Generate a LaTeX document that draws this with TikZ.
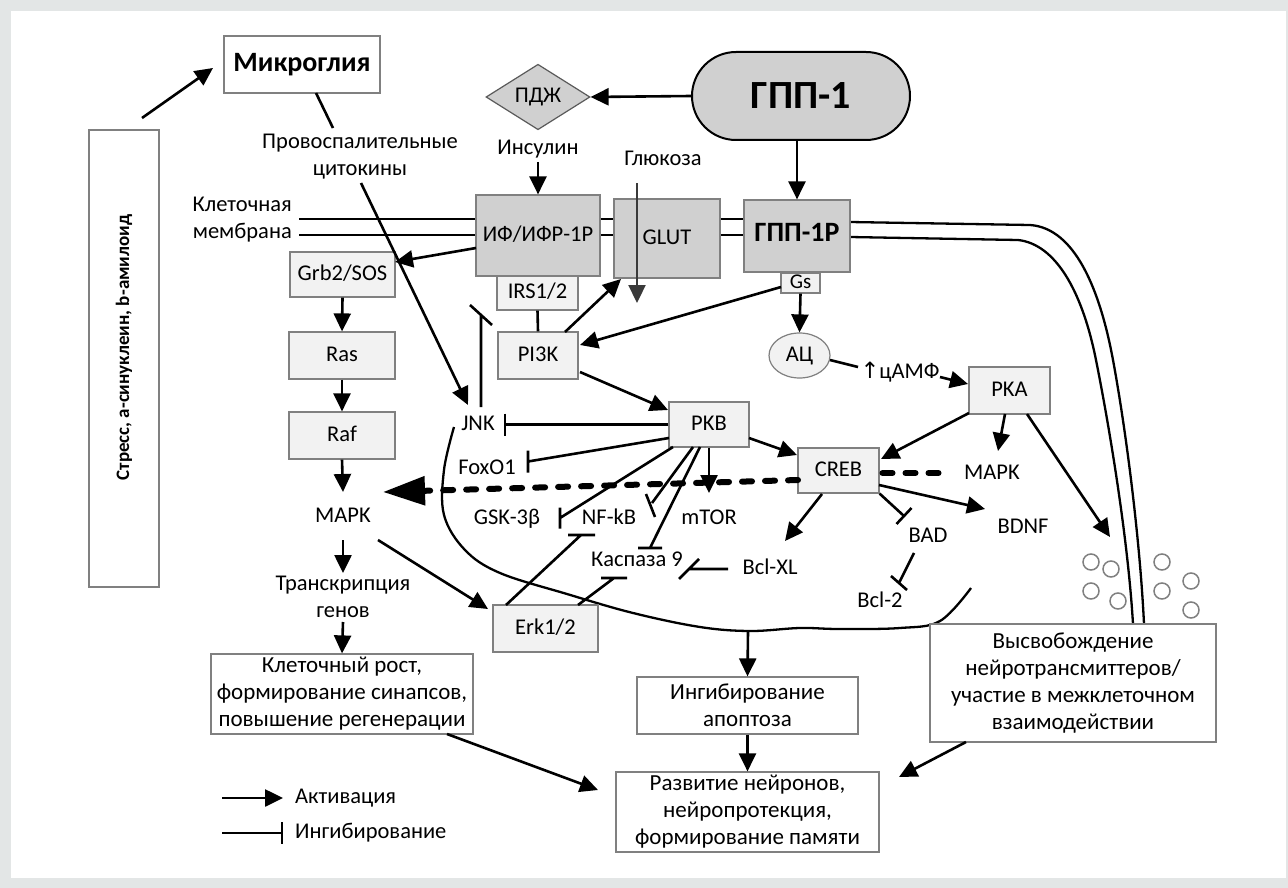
\documentclass[tikz,border=0pt]{standalone}
\usepackage{fontspec}
\setmainfont{Carlito}
\newfontfamily\symfont{DejaVu Sans}
\usetikzlibrary{arrows.meta,shapes.geometric,calc}
\definecolor{framecol}{HTML}{E3E6E6}
\definecolor{darkfill}{HTML}{D0D0D0}
\definecolor{lightfill}{HTML}{F2F2F2}
\definecolor{edgecol}{HTML}{808080}
\definecolor{glucol}{HTML}{3A3A3A}
\begin{document}
\begin{tikzpicture}[x=1pt,y=-1pt,
 every node/.style={inner sep=0pt},
 lbl/.style={font=\fontsize{22.5}{27}\selectfont, text height=15pt, text depth=4pt},
 bx/.style={draw=edgecol, line width=1.2pt, lbl},
 lbx/.style={bx, fill=lightfill},
 dbx/.style={bx, fill=darkfill},
 wbx/.style={draw=edgecol, line width=1.2pt, fill=white, align=center, font=\fontsize{23}{27}\selectfont},
 act/.style={line width=2.6pt, -{Triangle[length=18pt,width=17pt]}},
 ln/.style={line width=2.6pt},
 mem/.style={line width=2.3pt},
 vesicle/.style={draw=edgecol, line width=1.5pt}]
\useasboundingbox (0,0) rectangle (1288,888);
\fill[framecol] (0,0) rectangle (1288,888);
\fill[white] (11,11) rectangle (1286,878);

% membrane
\draw[mem] (299,219) -- (476,219) (600,219) -- (614,219) (720,219) -- (744,219);
\draw[mem] (299,235) -- (476,235) (600,235) -- (614,235) (720,235) -- (744,235);
\draw[mem] (850,222) -- (1030,225) .. controls (1075,228) and (1100,290) .. (1113,360) .. controls (1126,430) and (1140,540) .. (1144,624);
\draw[mem] (850,237) -- (1018,240) .. controls (1055,244) and (1082,290) .. (1096,360) .. controls (1110,430) and (1128,540) .. (1133,624);

% apoptosis boundary curve
\draw[line width=2.3pt] plot[smooth, tension=0.6] coordinates {(454,427) (444,470) (444,515) (465,550) (500,573) (567,594) (633,613) (700,627) (750,631) (800,628) (839,629) (900,628) (940,621) (971,588)};
\coordinate (curvebot) at (748,631);

% vesicles
\foreach \vx/\vy in {1091/562,1111/569,1091/591,1118/601,1162/562,1162/591,1191/581,1191/610}
  \draw[vesicle] (\vx,\vy) circle (8pt);
\coordinate (ves) at (1110,537);

% nodes
\node[draw=edgecol, line width=1.2pt, fill=white, rotate=90, minimum width=457pt, minimum height=70pt, font=\bfseries\fontsize{19}{23}\selectfont] (stress) at (124,358.5) {\hspace*{22pt}Стресс, а-синуклеин, b-амилоид};
\node[draw=edgecol, line width=1.2pt, fill=white, minimum width=156pt, minimum height=57pt, font=\bfseries\fontsize{28}{32}\selectfont] (micro) at (302,64.5) {Микроглия};
\node[draw=black, line width=2pt, fill=darkfill, rounded corners=44pt, minimum width=218pt, minimum height=88pt, font=\bfseries\fontsize{40}{48}\selectfont] (gpp1) at (801,96) {ГПП-1};
\node[diamond, draw=edgecol!70!black, line width=1.2pt, fill=darkfill, minimum width=104pt, minimum height=62pt, lbl] (pdzh) at (538,97) {ПДЖ};

\node[dbx, minimum width=124pt, minimum height=81pt] (ifr) at (538,235.5) {ИФ/ИФР-1Р};
\node[dbx, minimum width=106pt, minimum height=79pt] (glut) at (667,238.5) {GLUT};
\node[dbx, minimum width=106pt, minimum height=72pt, font=\bfseries\fontsize{28}{32}\selectfont] (gpp1r) at (797,236) {ГПП-1Р};
\node[lbx, minimum width=81pt, minimum height=34pt] (irs) at (537.5,293) {IRS1/2};
\node[lbx, minimum width=39pt, minimum height=20pt, font=\fontsize{21}{24}\selectfont, text height=13pt, text depth=2pt] (gs) at (800.5,283) {Gs};

\node[lbx, minimum width=105pt, minimum height=45pt] (grb) at (342.5,274.5) {Grb2/SOS};
\node[lbx, minimum width=106pt, minimum height=47pt] (ras) at (342,355.5) {Ras};
\node[lbx, minimum width=106pt, minimum height=47pt] (raf) at (342,435.5) {Raf};
\node[lbx, minimum width=80pt, minimum height=47pt] (pi3k) at (538,355.5) {PI3K};
\node[ellipse, draw=edgecol, line width=1.2pt, fill=lightfill, minimum width=61pt, minimum height=45pt, lbl] (ac) at (799.5,355.5) {АЦ};
\node[lbx, minimum width=81pt, minimum height=47pt] (pka) at (1009.5,390.5) {PKA};
\node[lbx, minimum width=80pt, minimum height=45pt] (pkb) at (709,424.5) {PKB};
\node[lbx, minimum width=81pt, minimum height=45pt] (creb) at (838.5,470.5) {CREB};
\node[lbx, minimum width=105pt, minimum height=47pt] (erk) at (545.5,628.5) {Erk1/2};

\node[lbl] (prov1) at (360,143) {Провоспалительные};
\node[lbl] (prov2) at (360,170) {цитокины};
\node[lbl, anchor=east] (klet) at (292,206) {Клеточная};
\node[lbl, anchor=east] (memb) at (292,233) {мембрана};
\node[lbl] (insulin) at (538,149) {Инсулин};
\node[lbl] (glucose) at (663,160) {Глюкоза};
\node[lbl] (jnk) at (478,425) {JNK};
\node[lbl] (foxo) at (487,469) {FoxO1};
\node[lbl] (mapkL) at (343,517) {MAPK};
\node[lbl] (gsk) at (507,519) {GSK-3β};
\node[lbl] (nfkb) at (609,519) {NF-kB};
\node[lbl] (mtor) at (709,519) {mTOR};
\node[lbl] (casp) at (637,561) {Каспаза 9};
\node[lbl] (bclxl) at (770,569) {Bcl-XL};
\node[lbl] (mapkR) at (992,474) {MAPK};
\node[lbl] (bdnf) at (1023,528) {BDNF};
\node[lbl] (bad) at (928,537) {BAD};
\node[lbl] (bcl2) at (880,602) {Bcl-2};
\node[lbl] (transc) at (343,585) {Транскрипция};
\node[lbl] (genes) at (343,612) {генов};
\node[lbl] (camp) at (900,373) {{\symfont ↑}цАМФ};

\node[wbx, minimum width=262pt, minimum height=80pt] (growth) at (342,694) {Клеточный рост,\\формирование синапсов,\\повышение регенерации};
\node[wbx, minimum width=221pt, minimum height=57pt] (apopt) at (747.5,705.5) {Ингибирование\\апоптоза};
\node[wbx, minimum width=263pt, minimum height=80pt] (devel) at (747.5,812) {Развитие нейронов,\\нейропротекция,\\формирование памяти};
\node[wbx, minimum width=286pt, minimum height=118pt] (release) at (1073,683) {Высвобождение\\нейротрансмиттеров/\\участие в межклеточном\\взаимодействии};

\node[lbl, anchor=west] (lact) at (295,798) {Активация};
\node[lbl, anchor=west] (linh) at (295,833) {Ингибирование};

% glucose arrow through GLUT
\draw[line width=2.3pt, glucol, -{Triangle[length=18pt,width=17pt]}] ($(glucose)+(-26,23)$) -- ($(glut)+(-30,64.5)$);

% connectors
\draw[act] ($(stress)+(18,-240.5)$) -- ($(micro)+(-89,3.5)$);
\draw[ln] ($(micro)+(14,28.5)$) -- ($(prov1)+(-27,-15)$);
\draw[act] ($(prov2)+(1,13)$) -- ($(jnk)+(-10,-20)$);
\draw[act] (gpp1.west) -- (pdzh.east);
\draw[act] ($(insulin)+(0,13)$) -- (ifr.north);
\draw[act] (gpp1.south -| gpp1r.north) -- (gpp1r.north);
\draw[act] ($(ifr)+(-62,12.5)$) -- ($(grb)+(52.5,-12.5)$);
\draw[act] (grb.south) -- (ras.north);
\draw[act] (ras.south) -- (raf.north);
\draw[act] (raf.south) -- ($(mapkL)+(0,-25)$);
\draw[act] ($(mapkL)+(0,23)$) -- ($(transc)+(0,-12)$);
\draw[act] ($(genes)+(0,10)$) -- (growth.north);
\draw[act] ($(mapkL)+(35,23)$) -- ($(erk)+(-57.5,-19.5)$);
\draw[ln] (irs.south) -- (pi3k.north);
\draw[act] ($(pi3k)+(27,-23.5)$) -- ($(glut)+(-46,40.5)$);
\draw[act] ($(gs)+(-19.5,4)$) -- ($(pi3k)+(42,-10.5)$);
\draw[act] (gs.south) -- (ac.north);
\draw[ln] ($(ac)+(30.5,4.5)$) -- ($(camp)+(-42,-6)$);
\draw[act] ($(camp)+(40,4)$) -- ($(pka)+(-41.5,-6.5)$);
\draw[act] ($(pi3k)+(42,16.5)$) -- ($(pkb)+(-41,-14.5)$);
\draw[ln] (pkb.west) -- ($(jnk)+(27,-0.5)$) ++(0,-11) -- ++(0,22);
\draw[ln] ($(jnk)+(3,-18)$) -- ($(jnk)+(3,-110)$) ++(-11,-10) -- ++(22,20);
\draw[ln] ($(pkb)+(-40,13.5)$) -- ($(foxo)+(41,-7.5)$) ++(0,-11) -- ++(0,22);
\draw[ln] ($(pkb)+(-36,22.5)$) -- ($(gsk)+(53,-1)$) ++(0,-10.5) -- ++(0,21);
\draw[ln] ($(pkb)+(-16,22.5)$) -- ($(nfkb)+(43,-16)$) ++(-6,-9) -- ++(9,23);
\draw[act] (pkb.south) -- ($(mtor)+(0,-26)$);
\draw[ln] ($(pkb)+(-9,22.5)$) -- ($(casp)+(13,-13)$) ++(-12,0) -- ++(24,0);
\draw[act] ($(pkb)+(40,13.5)$) -- ($(creb)+(-41.5,-15.5)$);
\draw[act] ($(pka)+(-40.5,22.5)$) -- ($(creb)+(42.5,-11.5)$);
\draw[act] ($(pka)+(-4.5,23.5)$) -- ($(mapkR)+(6,-23)$);
\draw[act] ($(pka)+(17.5,23.5)$) -- (ves);
\draw[line width=6pt, line cap=round, dash pattern=on 10pt off 13pt, -{Triangle[length=42pt,width=28pt]}] ($(creb)+(-40.5,9.5)$) -- ($(mapkL)+(40,-25)$);
\draw[line width=6pt, line cap=round, dash pattern=on 10pt off 13pt] ($(creb)+(44,2.5)$) -- ($(mapkR)+(-43,-1)$);
\draw[act] ($(creb)+(40.5,14.5)$) -- ($(bdnf)+(-38,-19)$);
\draw[ln] (creb.south east) -- ($(bad)+(-24,-21)$) ++(-7.5,8) -- ++(15,-16);
\draw[ln] ($(bad)+(-14,16)$) -- ($(bcl2)+(19,-19)$) ++(-8,-7) -- ++(16,14);
\draw[act] ($(creb)+(-16.5,23.5)$) -- ($(bclxl)+(15,-28)$);
\draw[ln] ($(bclxl)+(-42,0)$) -- ($(casp)+(52,8)$) ++(-10,10) -- ++(20,-20);
\draw[ln] ($(erk)+(-39.5,-23.5)$) -- ($(nfkb)+(-28,16)$) ++(-13,0) -- ++(27,0);
\draw[ln] ($(erk)+(32.5,-23.5)$) -- ($(casp)+(-23,17)$) ++(-13,0) -- ++(26,0);
\draw[act] ($(growth)+(105,40)$) -- ($(devel)+(-149.5,-22)$);
\draw[act] (curvebot) -- (apopt.north);
\draw[act] (apopt.south) -- (devel.north);
\draw[act] ($(release)+(-107,59)$) -- ($(devel)+(151.5,-35)$);

% legend
\draw[act] ($(lact.west)+(-73,0)$) -- ($(lact.west)+(-12,0)$);
\draw[ln] ($(linh.west)+(-73,0)$) -- ($(linh.west)+(-13,0)$) ++(0,-11) -- ++(0,22);
\end{tikzpicture}
\end{document}
